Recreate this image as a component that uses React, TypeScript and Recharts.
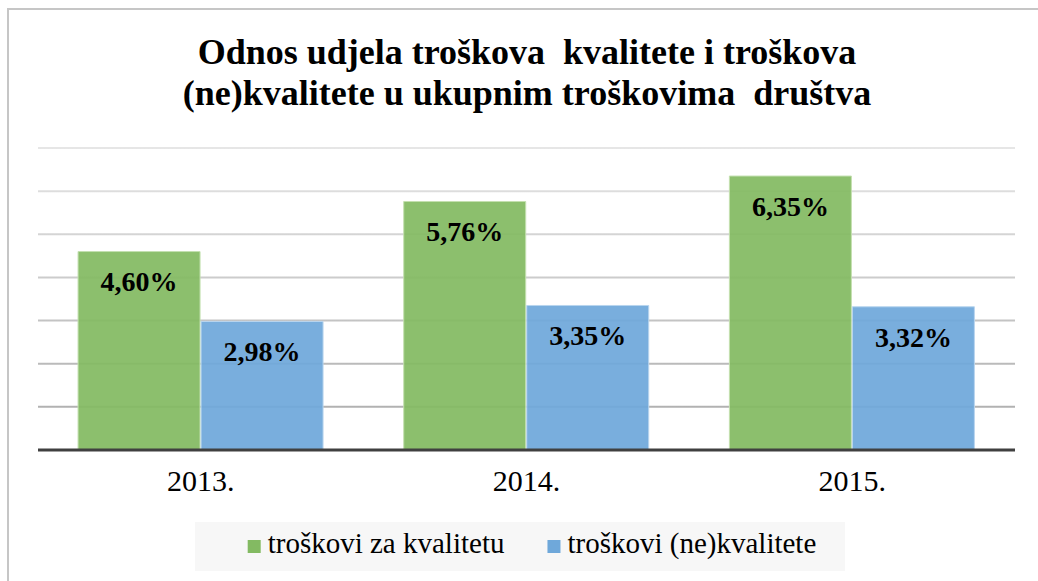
import React from "react";
import { BarChart, Bar, XAxis, YAxis, CartesianGrid, Legend, LabelList } from "recharts";

const years = ["2013.", "2014.", "2015."];
const kvaliteta = [4.6, 5.76, 6.35];
const nekvaliteta = [2.98, 3.35, 3.32];
const yTicks = [0, 1, 2, 3, 4, 5, 6, 7];
const seriesNames = ["troškovi za kvalitetu", "troškovi (ne)kvalitete"];
const titleLines = ["Odnos udjela troškova  kvalitete i troškova", "(ne)kvalitete u ukupnim troškovima  društva"];

const data = years.map((y, i) => ({ year: y, a: kvaliteta[i], b: nekvaliteta[i] }));

const SERIF = "Liberation Serif";
const GREEN = "#83BA62";
const BLUE = "#6FA8DA";
const LEGEND_FONT = 29;

const fmt = (v: number) => v.toFixed(2).replace(".", ",") + "%";

let measureCtx: CanvasRenderingContext2D | null = null;
const textWidth = (s: string, size: number) => {
  if (typeof document === "undefined") return s.length * size * 0.42;
  if (!measureCtx) measureCtx = document.createElement("canvas").getContext("2d");
  if (!measureCtx) return s.length * size * 0.42;
  measureCtx.font = `${size}px "${SERIF}"`;
  return measureCtx.measureText(s).width;
};

const LegendContent = (props: any) => {
  const payload = [...(props.payload || [])].sort(
    (x: any, y: any) => seriesNames.indexOf(x.value) - seriesNames.indexOf(y.value)
  );
  const W = 650;
  const H = 49;
  const marker = 13;
  const markerGap = 7;
  const itemGap = 43;
  const widths = payload.map((p: any) => marker + markerGap + textWidth(String(p.value), LEGEND_FONT));
  const total = widths.reduce((s: number, w: number) => s + w, 0) + itemGap * Math.max(0, payload.length - 1);
  let x = (W - total) / 2 + 12;
  const items = payload.map((p: any, i: number) => {
    const x0 = x;
    x += widths[i] + itemGap;
    return (
      <g key={i}>
        <rect x={x0} y={18} width={marker} height={marker} fill={p.color} />
        <text x={x0 + marker + markerGap} y={31} fontFamily={SERIF} fontSize={LEGEND_FONT} fill="#000">
          {p.value}
        </text>
      </g>
    );
  });
  return (
    <svg width={W} height={H} style={{ display: "block" }}>
      <rect x={0} y={0} width={W} height={H} fill="#f7f7f7" />
      {items}
    </svg>
  );
};

export default function App() {
  return (
    <div style={{ position: "absolute", left: 0, top: 0, width: 1038, height: 581, background: "#fff", overflow: "hidden" }}>
      <div
        style={{
          position: "absolute",
          left: 7,
          top: 8,
          width: 1100,
          height: 700,
          borderTop: "2px solid #c6c6c6",
          borderLeft: "2px solid #c6c6c6",
        }}
      />
      <svg width={1038} height={130} style={{ position: "absolute", left: 0, top: 0 }}>
        {titleLines.map((t, i) => (
          <text
            key={i}
            x={527}
            y={64 + i * 41}
            textAnchor="middle"
            fontFamily={SERIF}
            fontWeight="bold"
            fontSize={36}
            fill="#000"
            style={{ whiteSpace: "pre" }}
          >
            {t}
          </text>
        ))}
      </svg>
      <div style={{ position: "absolute", left: 0, top: 0 }}>
        <BarChart
          width={1038}
          height={581}
          data={data}
          margin={{ top: 148, left: 38, right: 23, bottom: 61 }}
          barCategoryGap="12.3%"
          barGap={1}
        >
          <defs>
            <linearGradient id="gridGrad" gradientUnits="userSpaceOnUse" x1="0" y1="148" x2="0" y2="450">
              <stop offset="0" stopColor="#e6e6e6" />
              <stop offset="1" stopColor="#a9a9a9" />
            </linearGradient>
          </defs>
          <CartesianGrid vertical={false} stroke="url(#gridGrad)" strokeWidth={2} />
          <YAxis hide domain={[0, 7]} ticks={yTicks} />
          <XAxis
            dataKey="year"
            height={70}
            tickLine={false}
            axisLine={{ stroke: "#404040", strokeWidth: 3 }}
            tick={{ fontFamily: SERIF, fontSize: 30, fill: "#000" }}
            tickMargin={14}
          />
          <Legend
            verticalAlign="middle"
            align="center"
            content={<LegendContent />}
            wrapperStyle={{ position: "absolute", left: 195, top: 522, width: 650, height: 49 }}
          />
          <Bar dataKey="a" name={seriesNames[0]} fill={GREEN} fillOpacity={0.93} stroke="#c4e0b0" strokeWidth={1} isAnimationActive={false}>
            <LabelList
              dataKey="a"
              position="insideTop"
              offset={20}
              formatter={(v: any) => fmt(Number(v))}
              fontFamily={SERIF}
              fontWeight="bold"
              fontSize={28}
              fill="#000"
            />
          </Bar>
          <Bar dataKey="b" name={seriesNames[1]} fill={BLUE} fillOpacity={0.93} stroke="#b9d5ee" strokeWidth={1} isAnimationActive={false}>
            <LabelList
              dataKey="b"
              position="insideTop"
              offset={20}
              formatter={(v: any) => fmt(Number(v))}
              fontFamily={SERIF}
              fontWeight="bold"
              fontSize={28}
              fill="#000"
            />
          </Bar>
        </BarChart>
      </div>
    </div>
  );
}
